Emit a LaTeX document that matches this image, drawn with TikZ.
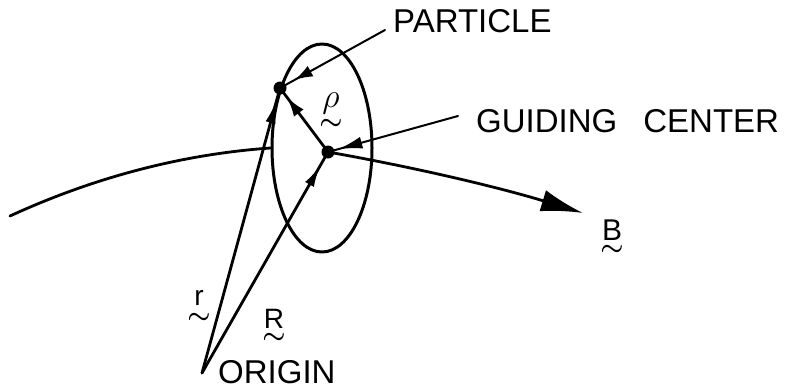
\RequirePackage{fix-cm}
\documentclass[tikz,border=0pt]{standalone}
\usepackage{fontspec}
\setmainfont{Liberation Sans}
\usetikzlibrary{arrows.meta,decorations.markings,shapes.geometric}
\newcommand\tildeunder[2]{\ooalign{#2\cr\hidewidth\raisebox{#1}{\fontsize{26}{26}\selectfont\boldmath$\sim$}\hidewidth\cr}}
\begin{document}
\begin{tikzpicture}[x=1pt,y=-1pt, line cap=round, line join=round,
  lbl/.style={font=\fontsize{33}{33}\selectfont, inner sep=0pt, anchor=base west},
  sym/.style={font=\fontsize{28}{28}\selectfont, inner sep=0pt, anchor=base},
  vec/.style={line width=2.8pt},
  lead/.style={line width=2pt},
  dotc/.style={circle, fill, inner sep=0pt, minimum size=13pt},
  midarrow/.style n args={3}{postaction={decorate}, decoration={markings, mark=at position #1 with {\arrow{Latex[length=#2,width=#3]}}}},
]
\useasboundingbox (0,0) rectangle (787,389);

\coordinate (O) at (202,373);
\coordinate (Bstart) at (10,216);
\coordinate (Bend) at (583,213);
\coordinate (PL) at (385,30);
\coordinate (GL) at (458,116);

\node[ellipse, draw, line width=3pt, minimum width=100pt, minimum height=208pt, inner sep=0pt] (orbit) at (322,148) {};
\coordinate (G0) at (328,152);
\coordinate (P0) at (280,88);

% field line
\draw[vec] (Bstart) .. controls (97,176) and (185,154) .. (orbit.west);
\draw[vec, -{Latex[length=42pt,width=22pt]}] (G0) .. controls (413,167) and (498,187) .. (Bend);

% vectors
\draw[vec, midarrow={0.96}{24pt}{10pt}] (O) -- (P0);
\draw[vec, midarrow={0.94}{22pt}{10pt}] (O) -- (G0);
\draw[vec, midarrow={0.86}{20pt}{12pt}] (G0) -- (P0);

% leaders
\draw[lead, midarrow={0.86}{18pt}{12pt}] (PL) -- (P0);
\draw[lead, midarrow={0.92}{24pt}{12pt}] (GL) -- (G0);

% dots
\node[dotc] (P) at (P0) {};
\node[dotc] (G) at (G0) {};

% labels
\node[lbl] (partlab) at (393,32) {PARTICLE};
\node[lbl] (gclab) at (476,132) {GUIDING\hspace{26pt}CENTER};
\node[lbl] (origlab) at (218,383) {ORIGIN};

\node[sym, font=\fontsize{34}{34}\selectfont] (rholab) at (331,107) {\tildeunder{-22pt}{$\rho$}};
\node[sym] (rlab) at (199,305) {\tildeunder{-18pt}{r}};
\node[sym] (Rlab) at (274,328) {\tildeunder{-15pt}{R}};
\node[sym, font=\fontsize{30}{30}\selectfont] (Blab) at (612,240) {\tildeunder{-15pt}{B}};
\end{tikzpicture}
\end{document}
